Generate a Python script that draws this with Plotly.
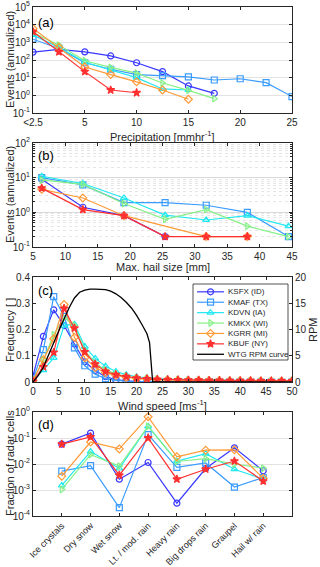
import plotly.graph_objects as go

# ---- data -------------------------------------------------------------
STATIONS = ["KSFX (ID)", "KMAF (TX)", "KDVN (IA)", "KMKX (WI)", "KGRR (MI)", "KBUF (NY)"]
COLORS = ["#3838ff", "#3a9cff", "#22e8f2", "#86f086", "#ff9a36", "#ff3030"]
SYMBOLS = ["circle-open", "square-open", "triangle-up-open", "triangle-right-open",
           "diamond-open", "star"]

# (a) precipitation bins
precip = [0, 2.5, 5, 7.5, 10, 12.5, 15, 17.5, 20, 22.5, 25]
precip_ticks = [0, 5, 10, 15, 20, 25]
precip_labels = ["<2.5", "5", "10", "15", "20", "25"]
precip_events = [
    [280, 400, 290, 170, 70, 22, 3.4, 1.3],
    [1500, 450, 70, 30, 15, 13, 11, 7.4, 8.7, 5.2, 0.85],
    [2600, 520, 75, 28, 10, 2.3, 2.0],
    [3500, 700, 90, 38, 18, 5, 1.9, 0.65],
    [6000, 520, 40, 15, 5.8, 2.0, 0.6],
    [4000, 290, 22, 2.0, 1.4],
]

# (b) hail size
hail = [6.35, 12.7, 19.05, 25.4, 31.75, 38.1, 44.45]
hail_events = [
    [9.0, 1.4, 0.8, 0.2],
    [10.0, 6.2, 1.9, 1.9, 1.6, 1.0, 0.2],
    [11.0, 6.8, 2.6, 0.83, 0.6, 0.8, 0.4],
    [8.6, 6.4, 1.8, 0.63, 1.2, 0.4, 0.2],
    [4.6, 2.6, 0.8, None, 0.2, 0.2],
    [5.0, 1.2, 0.8, 0.2, 0.2, 0.2],
]

# (c) wind speed frequency + turbine RPM
wind = [0, 2, 4, 6, 8, 10, 12, 14, 16, 18, 20, 22, 24, 26, 28, 30, 32, 34, 36, 38,
        40, 42, 44, 46, 48, 50]
wind_freq = [
    [0.023, 0.174, 0.275, 0.215, 0.145, 0.077, 0.044, 0.020, 0.009, 0.004, 0.002, 0.001, 0.001,
     0.001, 0, 0, 0, 0, 0, 0, 0, 0, 0, 0, 0, 0],
    [0.010, 0.123, 0.325, 0.250, 0.130, 0.062, 0.030, 0.013, 0.006, 0.003, 0.002, 0.001, 0.001,
     0.001, 0, 0, 0, 0, 0, 0, 0, 0, 0, 0, 0, 0],
    [0.005, 0.045, 0.092, 0.215, 0.220, 0.135, 0.090, 0.060, 0.040, 0.028, 0.020, 0.016, 0.013,
     0.011, 0.010, 0.009, 0.008, 0.007, 0.007, 0.006, 0.006, 0.005, 0.005, 0.005, 0.004, 0.004],
    [0.005, 0.085, 0.180, 0.245, 0.215, 0.120, 0.072, 0.046, 0.031, 0.022, 0.016, 0.013, 0.011,
     0.010, 0.009, 0.008, 0.007, 0.006, 0.006, 0.005, 0.005, 0.005, 0.004, 0.004, 0.004, 0.004],
    [0.005, 0.085, 0.165, 0.295, 0.170, 0.092, 0.055, 0.035, 0.025, 0.018, 0.013, 0.011, 0.009,
     0.008, 0.007, 0.006, 0.006, 0.005, 0.005, 0.004, 0.004, 0.004, 0.003, 0.003, 0.003, 0.003],
    [0.003, 0.058, 0.113, 0.280, 0.205, 0.115, 0.068, 0.040, 0.028, 0.020, 0.015, 0.012, 0.010,
     0.009, 0.008, 0.007, 0.007, 0.006, 0.006, 0.005, 0.005, 0.005, 0.004, 0.004, 0.004, 0.004],
]
rpm_wind = [0, 1, 2, 3, 4, 5, 6, 7, 8, 9, 10, 11, 12, 13, 14, 15, 16, 17, 18, 19, 20, 21, 22,
            22.5, 23, 23.1, 50]
rpm = [0, 1.2, 2.8, 5, 7.5, 9.8, 12, 14.2, 16, 17.1, 17.5, 17.7, 17.7, 17.7, 17.6, 17.3, 16.8,
       16.1, 15.2, 14.1, 12.7, 11, 9.2, 7.5, 2, 0, 0]

# (d) hydrometeor classes
classes = ["Ice crystals", "Dry snow", "Wet snow", "Lt. / mod. rain", "Heavy rain",
           "Big drops rain", "Graupel", "Hail w/ rain"]
class_frac = [
    [0.058, 0.155, 0.0026, 0.0114, 0.00031, 0.0067, 0.042, 0.0055],
    [0.0053, 0.0087, 0.00021, 0.135, 0.0074, 0.011, 0.0013, 0.003],
    [0.0015, 0.030, 0.0067, 0.28, 0.013, 0.025, 0.0063, 0.0026],
    [0.00105, 0.023, 0.0083, 0.28, 0.0125, 0.016, 0.010, 0.0069],
    [0.0034, 0.070, 0.038, 0.65, 0.019, 0.034, 0.035, 0.0028],
    [0.058, 0.11, 0.0037, 0.10, 0.0026, 0.0063, 0.013, 0.0022],
]

# ---- figure -----------------------------------------------------------
W, H = 320, 567
FONT = "Liberation Sans, Arial, sans-serif"
AX = "#262626"
GRID = "#e3e3e3"


def py(px):
    return 1 - px / H


def dec_ticks(lo, hi):
    vals = [10 ** e for e in range(lo, hi + 1)]
    text = [f"10<sup>{e}</sup>" for e in range(lo, hi + 1)]
    return vals, text


def minor_vals(lo, hi):
    return [m * 10 ** e for e in range(lo, hi) for m in range(2, 10)]


def base_axis(**kw):
    d = dict(showline=True, linecolor=AX, linewidth=1, mirror="ticks", ticks="inside",
             ticklen=3, tickcolor=AX, tickfont=dict(size=10, color=AX, family=FONT),
             zeroline=False, showgrid=False, automargin=False)
    d.update(kw)
    return d


fig = go.Figure()
XD = [33 / W, 292 / W]


def style(i):
    mk = dict(symbol=SYMBOLS[i], size=6, color=COLORS[i], line=dict(width=1.2, color=COLORS[i]))
    ln = dict(color=COLORS[i], width=1.2)
    return mk, ln


for i in range(6):
    mk, ln = style(i)
    ev = precip_events[i]
    fig.add_trace(go.Scatter(x=precip[:len(ev)], y=ev, mode="lines+markers", marker=mk, line=ln,
                             xaxis="x", yaxis="y"))
    hv = hail_events[i]
    fig.add_trace(go.Scatter(x=hail[:len(hv)], y=hv, mode="lines+markers", marker=mk, line=ln,
                             connectgaps=True, xaxis="x2", yaxis="y2"))
    fig.add_trace(go.Scatter(x=wind, y=wind_freq[i], mode="lines+markers", marker=mk, line=ln,
                             name=STATIONS[i], xaxis="x3", yaxis="y3"))
    fig.add_trace(go.Scatter(x=classes, y=class_frac[i], mode="lines+markers", marker=mk, line=ln,
                             xaxis="x4", yaxis="y4"))

fig.add_trace(go.Scatter(x=rpm_wind, y=rpm, mode="lines", line=dict(color="black", width=1.3),
                         xaxis="x3", yaxis="y5"))

# compact legend drawn on its own hidden axes (row index on y)
legend_names = STATIONS + ["WTG RPM curve"]
for r, name in enumerate(legend_names):
    if r < 6:
        mk, ln = style(r)
        fig.add_trace(go.Scatter(x=[0, 1], y=[r, r], mode="lines", line=ln,
                                 xaxis="x5", yaxis="y6"))
        fig.add_trace(go.Scatter(x=[0.5], y=[r], mode="markers", marker=mk,
                                 xaxis="x5", yaxis="y6"))
    else:
        fig.add_trace(go.Scatter(x=[0, 1], y=[r, r], mode="lines",
                                 line=dict(color="black", width=1.3), xaxis="x5", yaxis="y6"))

ya_v, ya_t = dec_ticks(-1, 5)
yb_v, yb_t = dec_ticks(-1, 2)
yd_v, yd_t = dec_ticks(-4, 0)

hidden = dict(visible=False, showgrid=False, zeroline=False, fixedrange=True)

fig.update_layout(
    width=W, height=H, margin=dict(l=0, r=0, t=0, b=0),
    paper_bgcolor="white", plot_bgcolor="white", showlegend=False,
    font=dict(family=FONT, size=10, color=AX),
    xaxis=base_axis(domain=XD, anchor="y", range=[0, 25], tickvals=precip_ticks,
                    ticktext=precip_labels),
    yaxis=base_axis(domain=[py(113), py(7)], anchor="x", type="log", range=[-1, 5],
                    tickvals=ya_v, ticktext=ya_t, showgrid=True, gridcolor=GRID),
    xaxis2=base_axis(domain=XD, anchor="y2", range=[5, 45], tickvals=list(range(5, 50, 5))),
    yaxis2=base_axis(domain=[py(247), py(143)], anchor="x2", type="log", range=[-1, 2],
                     tickvals=yb_v, ticktext=yb_t, showgrid=True, gridcolor="#d9d9d9",
                     minor=dict(tickvals=minor_vals(-1, 2), showgrid=True, gridcolor="#e6e6e6",
                                griddash="dot", ticks="inside", ticklen=2, tickcolor=AX)),
    xaxis3=base_axis(domain=XD, anchor="y3", range=[0, 50], tickvals=list(range(0, 55, 5))),
    yaxis3=base_axis(domain=[py(382), py(277)], anchor="x3", range=[0, 0.4],
                     tickvals=[0, 0.1, 0.2, 0.3, 0.4], mirror=False),
    yaxis5=base_axis(overlaying="y3", anchor="x3", side="right", range=[0, 20],
                     tickvals=[0, 5, 10, 15, 20], mirror=False),
    xaxis4=base_axis(domain=XD, anchor="y4", type="category", range=[-1, 8], tickangle=-45,
                     tickfont=dict(size=9, color=AX, family=FONT)),
    yaxis4=base_axis(domain=[py(516), py(412)], anchor="x4", type="log", range=[-4, 0],
                     tickvals=yd_v, ticktext=yd_t, showgrid=True, gridcolor=GRID),
    # legend box 193..288 px wide, 284..360 px tall; line sample 4..31 px inside it
    xaxis5=dict(hidden, domain=[193 / W, 288 / W], anchor="y6", range=[-0.15, 3.37]),
    yaxis6=dict(hidden, domain=[py(360), py(284)], anchor="x5", range=[6.55, -0.75]),
)

ann = []


def title(text, x, y, angle=0, size=11):
    ann.append(dict(text=text, x=x, y=y, xref="paper", yref="paper", showarrow=False,
                    textangle=angle, font=dict(size=size, family=FONT, color=AX),
                    xanchor="center", yanchor="middle"))


mid = (XD[0] + XD[1]) / 2
title("Precipitation [mmhr<sup>-1</sup>]", mid, py(136))
title("Events (annualized)", 10 / W, py(60), -90)
title("Max. hail size [mm]", mid, py(267))
title("Events (annualized)", 10 / W, py(195), -90)
title("Wind speed [ms<sup>-1</sup>]", mid, py(405))
title("Frequency [ ]", 10 / W, py(330), -90)
title("RPM", 313 / W, py(330), -90)
title("Fraction of radar cells", 10 / W, py(463), -90)
for lab, yy in [("(a)", 22), ("(b)", 155), ("(c)", 290), ("(d)", 424)]:
    ann.append(dict(text=lab, x=36 / W, y=py(yy), xref="paper", yref="paper", showarrow=False,
                    xanchor="left", yanchor="middle", font=dict(size=13, family=FONT, color="black")))
for r, name in enumerate(legend_names):
    ann.append(dict(text=name, x=1.07, y=r, xref="x5", yref="y6", showarrow=False,
                    xanchor="left", yanchor="middle", font=dict(size=8, family=FONT, color=AX)))
fig.update_layout(annotations=ann, shapes=[
    dict(type="rect", xref="x5 domain", yref="y6 domain", x0=0, x1=1, y0=0, y1=1,
         line=dict(color=AX, width=0.8), layer="above")])

fig.write_html("out.html", config={"displayModeBar": False},
               post_script="document.body.style.margin='0px';")
